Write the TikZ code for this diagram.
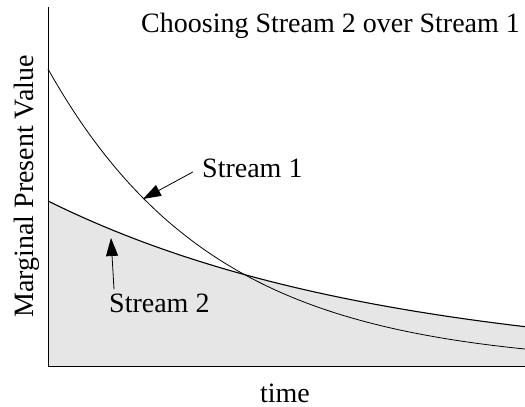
\documentclass[tikz,border=0pt]{standalone}
\usepackage{fontspec}
\setmainfont{Liberation Serif}
\usetikzlibrary{arrows.meta}
\definecolor{areagrey}{RGB}{230,230,230}
\begin{document}
\begin{tikzpicture}[x=1pt,y=-1pt,
  lbl/.style={inner sep=0pt, font=\fontsize{28}{32}\selectfont},
  curve/.style={line width=0.8pt},
  pointer/.style={-{Triangle[length=18pt,width=12pt]}, line width=0.8pt}]
\useasboundingbox (0,0) rectangle (525,407);
% shaded area under Stream 2
\fill[fill=areagrey] plot[domain=48:525,samples=120] (\x,{366-165*exp(-0.003*(\x-48))}) -- (525,366) -- (48,366) -- cycle;
% Stream 1
\draw[curve] plot[domain=48:525,samples=120] (\x,{366-297*exp(-0.006*(\x-48))});
% Stream 2
\draw[curve, line width=1.1pt] plot[domain=48:525,samples=120] (\x,{366-165*exp(-0.003*(\x-48))});
% axes
\draw[line width=1pt] (48,7) -- (48,366) -- (525,366);
% labels
\node[lbl, anchor=base west] (title) at (141,32) {Choosing Stream 2 over Stream 1};
\node[lbl, anchor=base west] (s1lab) at (202,177) {Stream 1};
\node[lbl, anchor=base west] (s2lab) at (109,312) {Stream 2};
\node[lbl, anchor=base] (xlab) at (285,402) {time};
\node[lbl, anchor=base, rotate=90] (ylab) at (33,186.5) {Marginal Present Value};
\coordinate (s1tip) at (143,199);
\coordinate (s2tip) at (111,238);
\draw[pointer] ([xshift=-9pt,yshift=-4pt]s1lab.west) -- (s1tip);
\draw[pointer] ([xshift=5pt,yshift=4pt]s2lab.north west) -- (s2tip);
\end{tikzpicture}
\end{document}
